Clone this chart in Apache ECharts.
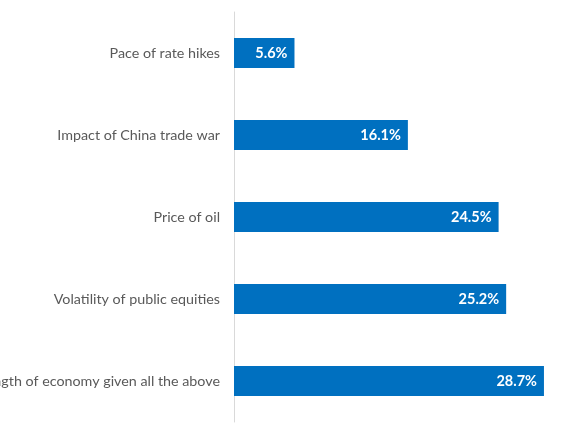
<!DOCTYPE html>
<html><head><meta charset="utf-8">
<script src="https://cdn.jsdelivr.net/npm/echarts@6/dist/echarts.min.js"></script>
<style>html,body{margin:0;padding:0;background:#fff}#c{width:580px;height:435px}</style>
</head><body><div id="c"></div>
<script>
const categories = ["Pace of rate hikes","Impact of China trade war","Price of oil","Volatility of public equities","Strength of economy given all the above"];
const values = [5.6, 16.1, 24.5, 25.2, 28.7];
const chart = echarts.init(document.getElementById('c'));
chart.setOption({
  animation: false,
  grid: {left: 234, right: 22, top: 12, bottom: 13, containLabel: false, outerBoundsMode: 'none'},
  xAxis: {type: 'value', min: 0, max: 30, show: false},
  yAxis: {
    type: 'category', data: categories, inverse: true,
    axisLine: {show: true, lineStyle: {color: '#d9d9d9', width: 1}},
    axisTick: {show: false},
    axisLabel: {color: '#595959', fontFamily: 'Lato', fontSize: 14.3, margin: 14}
  },
  series: [{
    type: 'bar', data: values, barWidth: 30,
    itemStyle: {color: '#0070C0'},
    label: {show: true, position: 'insideRight', distance: 7, color: '#fff', fontWeight: 'bold', fontFamily: 'Lato', fontSize: 14.5, formatter: p => p.value.toFixed(1) + '%'}
  }]
});
</script></body></html>
